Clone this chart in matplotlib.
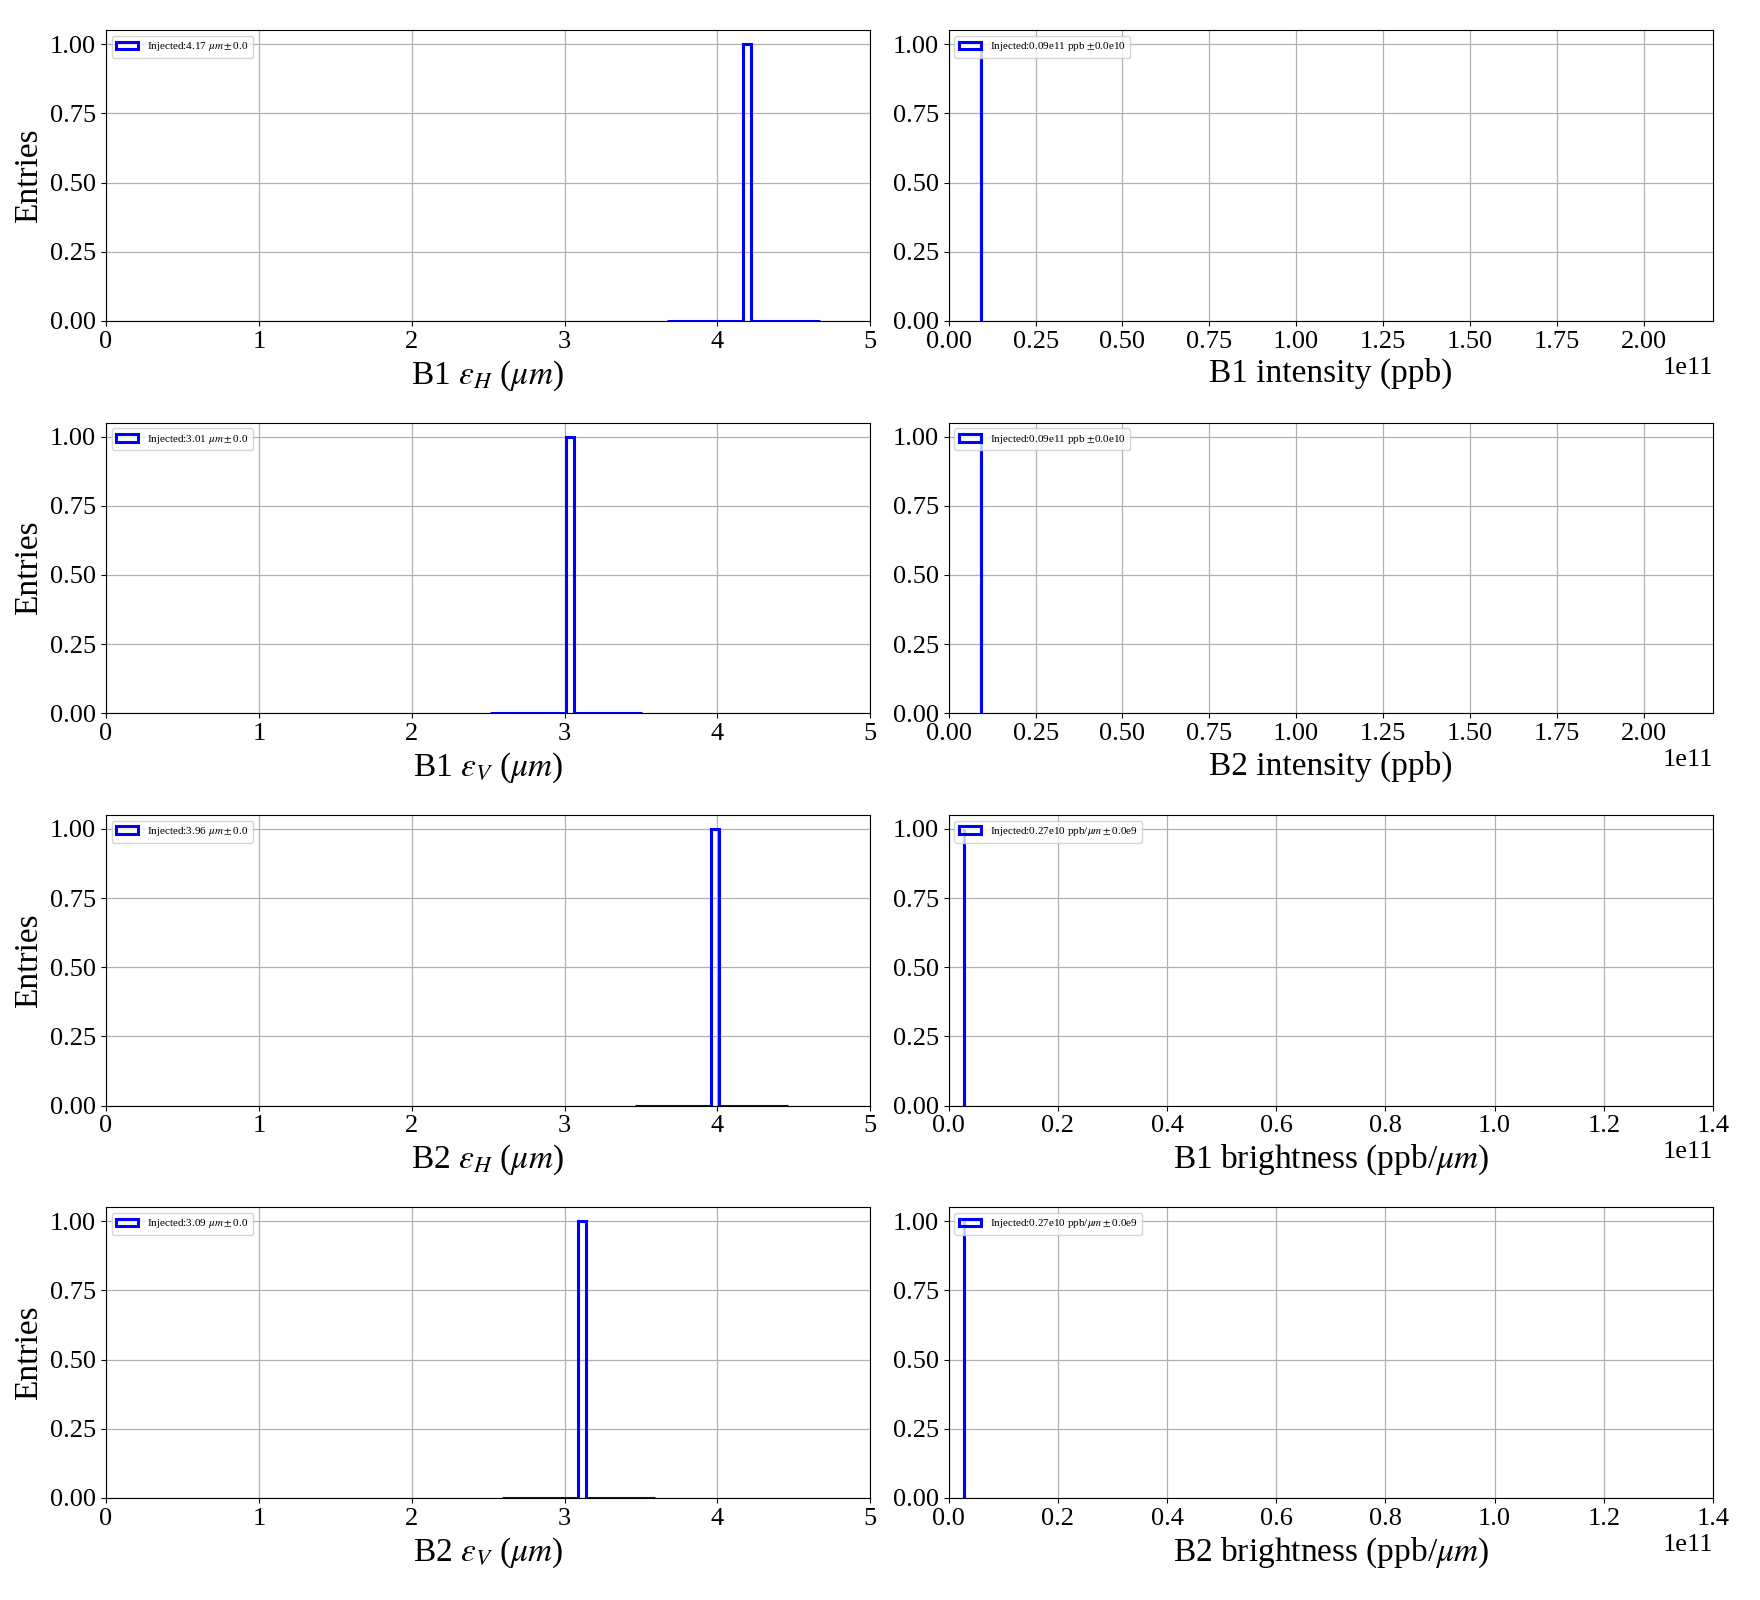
import matplotlib
matplotlib.use("Agg")
import matplotlib.pyplot as plt

# --- Datos ---
# Emitancias inyectadas (um) por haz y plano
EMIT_LABELS = [r"B1 $\varepsilon_H$ ($\mu m$)", r"B1 $\varepsilon_V$ ($\mu m$)",
               r"B2 $\varepsilon_H$ ($\mu m$)", r"B2 $\varepsilon_V$ ($\mu m$)"]
EMIT_VALUES = [4.17, 3.01, 3.96, 3.09]
EMIT_STD = [0.0, 0.0, 0.0, 0.0]

# Intensidad (ppb) y brillo (ppb/um)
INT_LABELS = ["B1 intensity (ppb)", "B2 intensity (ppb)"]
INT_VALUES = [0.094e11, 0.094e11]
BRIGHT_LABELS = [r"B1 brightness (ppb/$\mu m$)", r"B2 brightness (ppb/$\mu m$)"]
BRIGHT_VALUES = [0.274e10, 0.274e10]

INT_XMAX = 2.2e11
BRIGHT_XMAX = 1.4e11
N_BINS = 20

# --- Estilo ---
plt.rcParams['font.family'] = ['Liberation Serif', 'DejaVu Serif']
plt.rcParams['mathtext.fontset'] = 'stix'

fig, axes = plt.subplots(4, 2, figsize=(17.6, 16), dpi=100)
fig.subplots_adjust(left=0.0602, right=0.9733, top=0.981, bottom=0.0638,
                    wspace=0.1027, hspace=0.351)


def plot_hist(ax, value, label, legend_txt, xlim, ylabel=None):
    """Histograma tipo step de un solo valor inyectado."""
    ax.hist([value], bins=N_BINS, range=(value - 0.5, value + 0.5),
            histtype='step', color='blue', linewidth=2.2, label=legend_txt)
    ax.set_xlim(*xlim)
    ax.set_xlabel(label, fontsize=24)
    if ylabel:
        ax.set_ylabel(ylabel, fontsize=24)
    ax.tick_params(labelsize=19)
    ax.xaxis.get_offset_text().set_fontsize(19)
    ax.grid(True, color='#b0b0b0', linewidth=0.9)
    ax.set_axisbelow(True)
    ax.legend(loc='upper left', fontsize=8)


# Columna izquierda: emitancias
for i in range(4):
    txt = f"Injected:{EMIT_VALUES[i]:.2f} $\\mu m \\pm$0.0"
    plot_hist(axes[i, 0], EMIT_VALUES[i], EMIT_LABELS[i], txt, (0, 5), ylabel='Entries')

# Columna derecha: intensidad
for i in range(2):
    txt = f"Injected:{INT_VALUES[i] / 1e11:.2f}e11 ppb $\\pm$0.0e10"
    plot_hist(axes[i, 1], INT_VALUES[i], INT_LABELS[i], txt, (0, INT_XMAX))

# Columna derecha: brillo
for i in range(2):
    txt = f"Injected:{BRIGHT_VALUES[i] / 1e10:.2f}e10 ppb/$\\mu m \\pm$0.0e9"
    plot_hist(axes[i + 2, 1], BRIGHT_VALUES[i], BRIGHT_LABELS[i], txt, (0, BRIGHT_XMAX))

fig.savefig("out.png", dpi=100)
